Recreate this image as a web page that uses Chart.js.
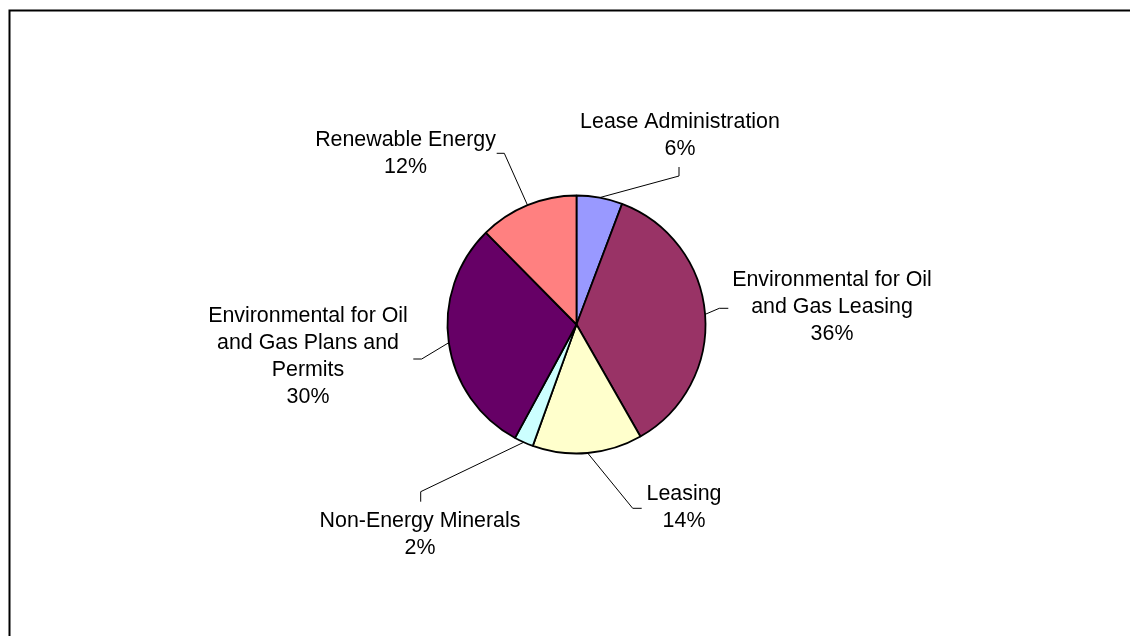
<!DOCTYPE html>
<html>
<head>
<meta charset="utf-8">
<script src="https://cdn.jsdelivr.net/npm/chart.js@4/dist/chart.umd.min.js"></script>
<style>
  html, body { margin: 0; padding: 0; background: #ffffff; }
  #wrap { position: relative; width: 1130px; height: 636px; }
</style>
</head>
<body>
<div id="wrap"><canvas id="c" width="1130" height="636"></canvas></div>
<script>
// ---- data ----
const categories = [
  ['Lease Administration'],
  ['Environmental for Oil', 'and Gas Leasing'],
  ['Leasing'],
  ['Non-Energy Minerals'],
  ['Environmental for Oil', 'and Gas Plans and', 'Permits'],
  ['Renewable Energy']
];
const shares = [5.75, 36.0, 13.75, 2.4, 29.7, 12.4];
const sliceColors = ['#9999FF', '#993366', '#FFFFCC', '#CCFFFF', '#660066', '#FF8080'];

// ---- label layout (offsets from pie centre, style only) ----
const leaderEnds  = [[102.5, -157.5], [151.8, -16.2], [65.2, 183.8], [-155.8, 177.2], [-163.2, 34.5], [-79.8, -171.2]];
const leaderElbow = [[0, 9], [-9, 0], [-9, 0], [0, -10], [8.4, 0], [7.6, 0]];
const labelAnchors = [[103.5, -196.5], [255.5, -38.5], [107.5, 175.5], [-156.5, 202.2], [-268.5, -2.5], [-171, -178.5]];
const lineHeight = 27;
const FONT = '21.4px "Liberation Sans", Arial, sans-serif';

const labelPlugin = {
  id: 'pieLabels',
  beforeDraw(chart) {
    const ctx = chart.ctx;
    ctx.save();
    ctx.strokeStyle = '#000000';
    ctx.lineWidth = 2;
    ctx.strokeRect(9.5, 10.5, 3000, 3000);
    ctx.restore();
  },
  afterDatasetsDraw(chart) {
    const ctx = chart.ctx;
    const meta = chart.getDatasetMeta(0);
    const data = chart.data.datasets[0].data;
    const total = data.reduce((a, b) => a + b, 0);
    ctx.save();
    meta.data.forEach((arc, i) => {
      const p = arc.getProps(['x', 'y', 'startAngle', 'endAngle', 'outerRadius'], true);
      const mid = (p.startAngle + p.endAngle) / 2;
      const sx = p.x + Math.cos(mid) * p.outerRadius;
      const sy = p.y + Math.sin(mid) * p.outerRadius;
      const ex = p.x + leaderEnds[i][0];
      const ey = p.y + leaderEnds[i][1];
      const kx = ex + leaderElbow[i][0];
      const ky = ey + leaderElbow[i][1];
      ctx.beginPath();
      ctx.strokeStyle = '#000000';
      ctx.lineWidth = 1;
      ctx.moveTo(sx, sy);
      ctx.lineTo(kx, ky);
      ctx.lineTo(ex, ey);
      ctx.stroke();

      const lines = chart.data.labels[i].slice();
      lines.push(Math.round(data[i] / total * 100) + '%');
      ctx.fillStyle = '#000000';
      ctx.font = FONT;
      ctx.textAlign = 'center';
      ctx.textBaseline = 'alphabetic';
      const cx = p.x + labelAnchors[i][0];
      let by = p.y + labelAnchors[i][1];
      lines.forEach((t) => { ctx.fillText(t, cx, by); by += lineHeight; });
    });
    ctx.restore();
  }
};

new Chart(document.getElementById('c'), {
  type: 'pie',
  data: {
    labels: categories,
    datasets: [{
      data: shares,
      backgroundColor: sliceColors,
      borderColor: '#000000',
      borderWidth: 1.8
    }]
  },
  options: {
    responsive: false,
    animation: false,
    radius: 129,
    layout: { padding: { left: 23, top: 13, right: 0, bottom: 0 } },
    plugins: { legend: { display: false }, tooltip: { enabled: false } }
  },
  plugins: [labelPlugin]
});
</script>
</body>
</html>
